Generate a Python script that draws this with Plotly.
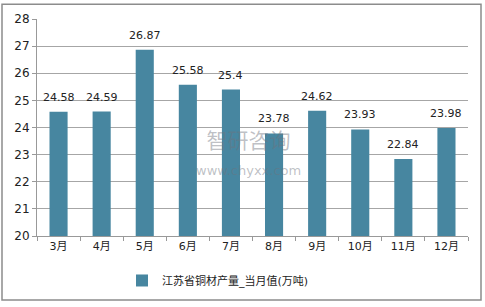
import plotly.graph_objects as go

months = ["3月", "4月", "5月", "6月", "7月", "8月", "9月", "10月", "11月", "12月"]
values = [24.58, 24.59, 26.87, 25.58, 25.4, 23.78, 24.62, 23.93, 22.84, 23.98]
labels = ["24.58", "24.59", "26.87", "25.58", "25.4", "23.78", "24.62", "23.93", "22.84", "23.98"]
series_name = "江苏省铜材产量_当月值(万吨)"
y_ticks = [20, 21, 22, 23, 24, 25, 26, 27, 28]
axis_floor = 20

font_family = "Verdana, DejaVu Sans, Noto Sans CJK SC, sans-serif"

fig = go.Figure()
fig.add_trace(go.Bar(
    x=months,
    y=[v - axis_floor for v in values],
    base=axis_floor,
    name=series_name,
    marker=dict(color="#4786a0", line=dict(width=0)),
    width=0.42,
    showlegend=True,
))

value_annotations = [
    dict(x=m, y=v, text=t, xref="x", yref="y", yanchor="bottom", yshift=6,
         showarrow=False, font=dict(size=11, color="#222222", family=font_family))
    for m, v, t in zip(months, values, labels)
]

watermark = [
    dict(text="智研咨询<br><span style='font-size:13px;font-family:DejaVu Sans'>www.chyxx.com</span>",
         xref="paper", yref="paper", x=(248 - 37) / 431,
         y=(237 - 151) / 220, showarrow=False, align="center",
         font=dict(size=21, color="rgba(110,115,125,0.45)",
                   family="Noto Sans CJK SC")),
]

fig.update_layout(
    width=485,
    height=307,
    margin=dict(l=37, r=17, t=17, b=70),
    paper_bgcolor="white",
    plot_bgcolor="white",
    font=dict(family=font_family, size=11, color="#222222"),
    showlegend=True,
    legend=dict(
        orientation="h",
        x=0.42,
        xanchor="center",
        y=-0.205,
        yanchor="middle",
        font=dict(size=11, family=font_family),
        itemwidth=30,
        bgcolor="rgba(0,0,0,0)",
    ),
    xaxis=dict(
        showgrid=False,
        showline=True,
        linecolor="#999999",
        linewidth=1,
        ticks="outside",
        tickson="boundaries",
        ticklen=4,
        tickcolor="#999999",
        tickfont=dict(size=11),
    ),
    yaxis=dict(
        range=[20, 28],
        tickvals=y_ticks,
        showgrid=True,
        gridcolor="#a6a6a6",
        gridwidth=1,
        showline=True,
        linecolor="#999999",
        linewidth=1,
        ticks="outside",
        ticklen=4,
        tickcolor="#999999",
        tickfont=dict(size=12),
        zeroline=False,
    ),
    shapes=[dict(
        type="rect", xref="paper", yref="paper",
        x0=-35 / 431, x1=1 + 13 / 431, y0=-65 / 220, y1=1 + 15 / 220,
        line=dict(color="#8c8c8c", width=1.5),
        fillcolor="rgba(0,0,0,0)", layer="below",
    )],
    annotations=value_annotations + watermark,
)

fig.write_html("out.html")
